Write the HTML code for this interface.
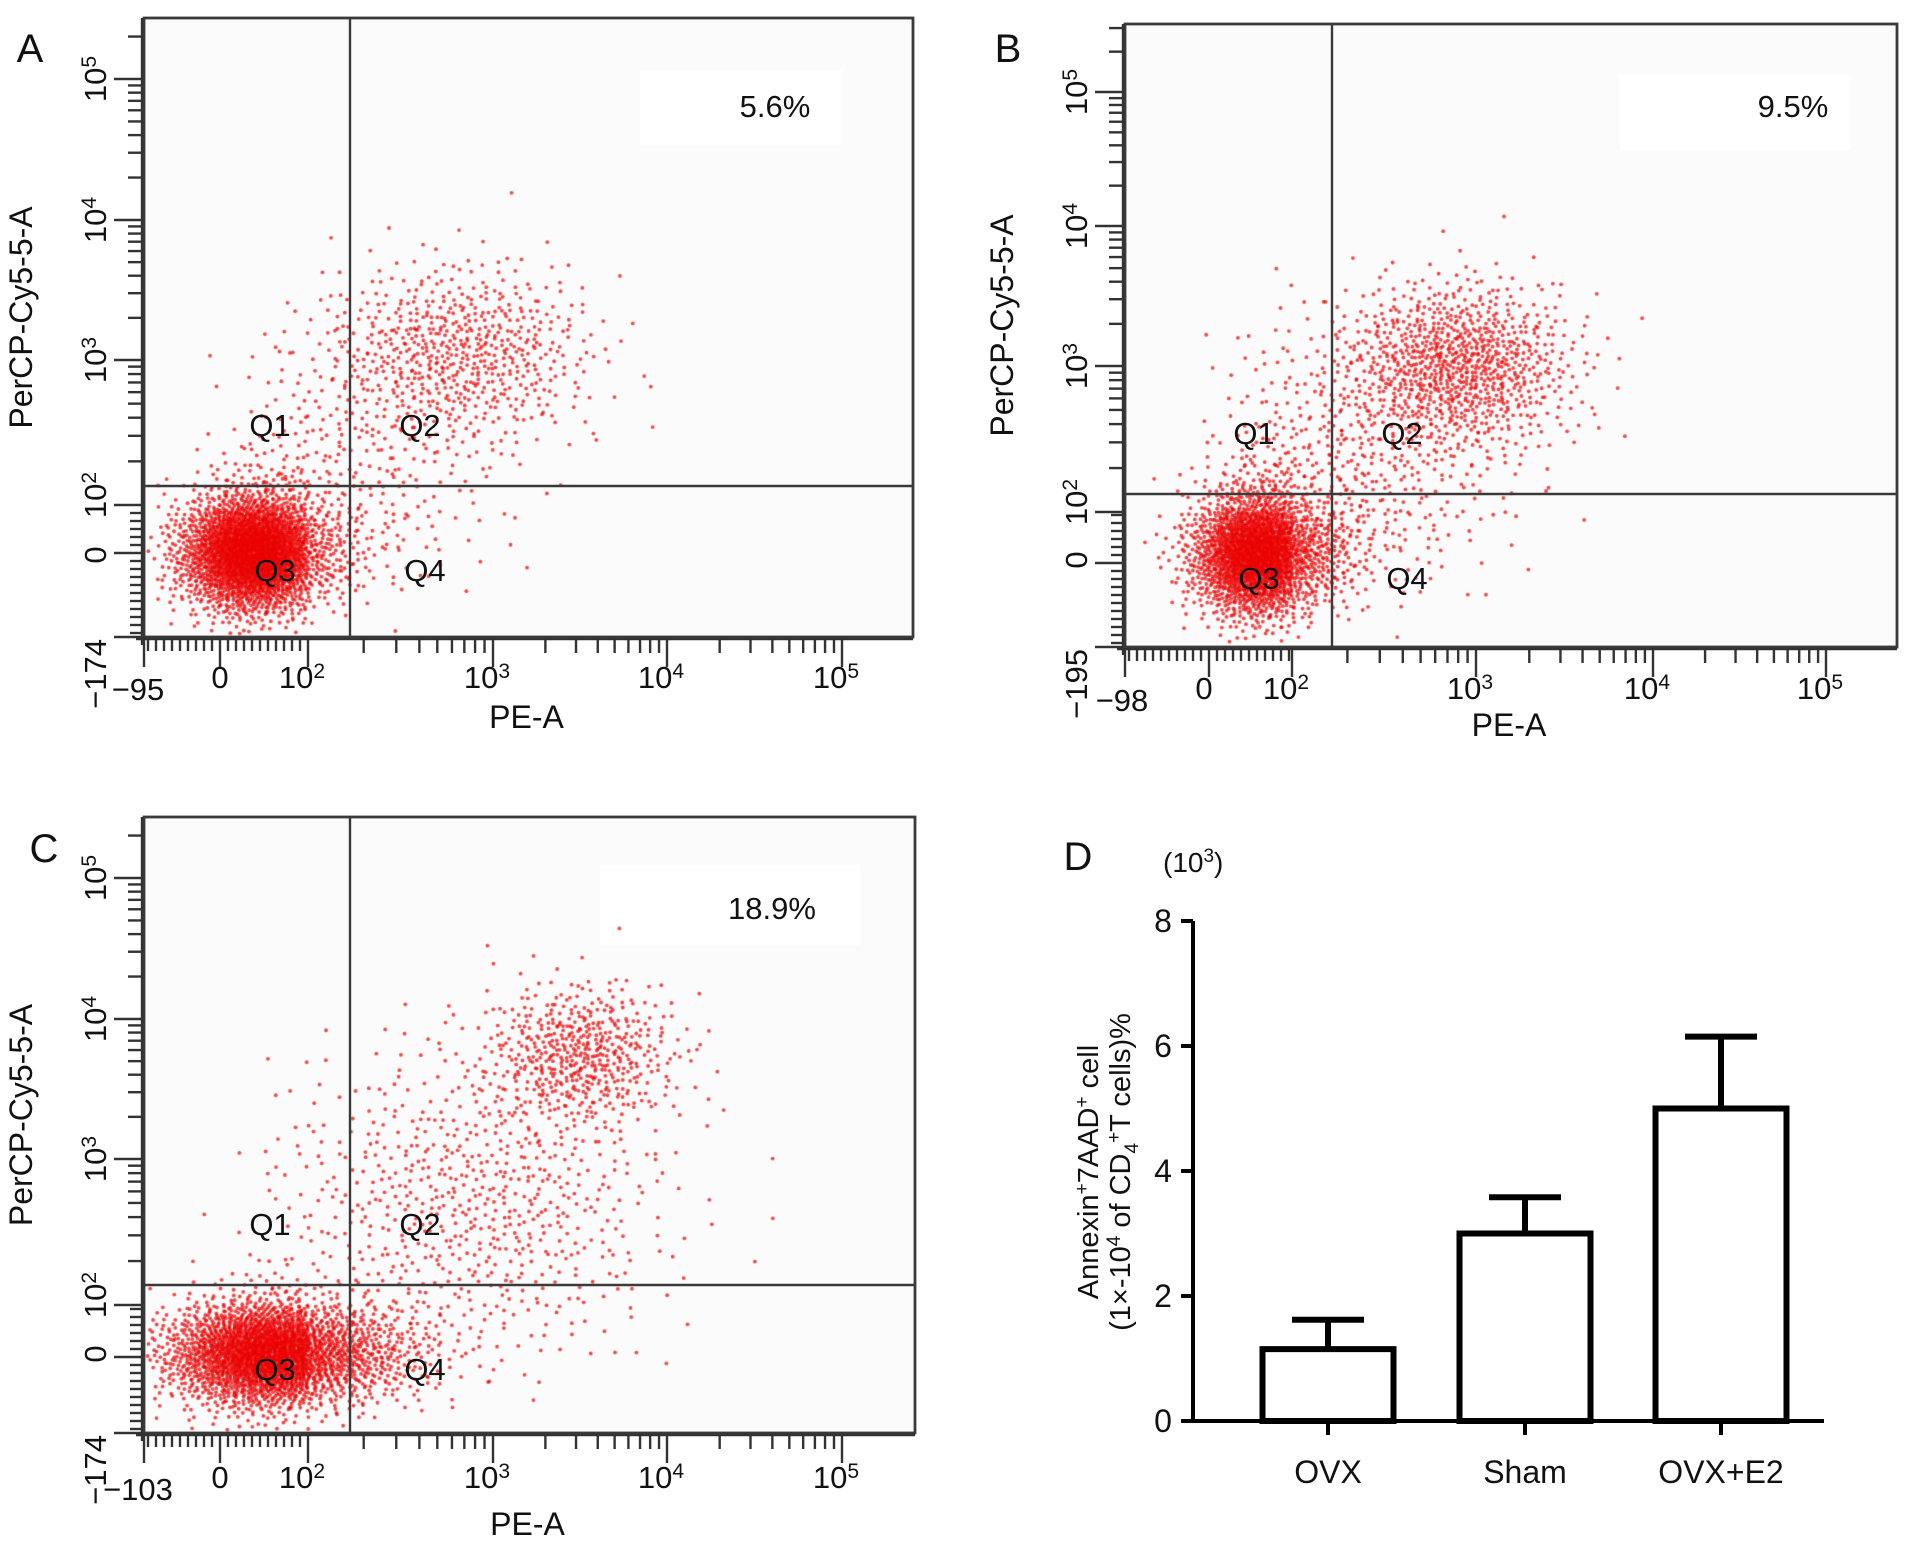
<!DOCTYPE html>
<html><head><meta charset="utf-8">
<style>
html,body{margin:0;padding:0;background:#fff;}
body{width:1913px;height:1559px;position:relative;overflow:hidden;font-family:"Liberation Sans",sans-serif;}
canvas{position:absolute;left:0;top:0;}
svg{position:absolute;left:0;top:0;}
</style></head>
<body>
<canvas id="dots" width="1913" height="1559"></canvas>
<svg id="ov" width="1913" height="1559"></svg>
<script>
// ---------- data ----------
// flow panels: cluster definitions in axis "decade" units [cx, cy, sx, sy, count]
const clustersA = [[1.55,1.62,0.3,0.24,2800],[2.8,3.05,0.38,0.32,650],[2.2,2.2,0.45,0.45,300]];
const clustersB = [[1.72,1.65,0.27,0.26,2300],[2.9,3.0,0.32,0.3,950],[2.3,2.3,0.45,0.5,500]];
const clustersC = [[1.7,1.6,0.42,0.22,2800],[3.5,3.75,0.28,0.25,520],[2.9,2.7,0.55,0.55,700]];
const percents = ["5.6%","9.5%","18.9%"];
const negXLabels = ["\u221295","\u221298","\u2212103"];
const negYLabels = ["\u2212174","\u2212195","\u2212174"];
// bar chart
const categories = ["OVX","Sham","OVX+E2"];
const barMeans = [1.15,3.0,5.0];
const barErrs = [0.47,0.58,1.15];
const barTicks = [0,2,4,6,8];

// ---------- layout ----------
const panels = [
 {id:"a",letter:"A",box:[144,18,913,637],gx:350,gy:486,xk:[[1.3,223],[2,308],[3,493],[4,667],[5,842]],yk:[[1.6,555],[2,505],[3,360],[4,220],[5,79]],cl:clustersA,pctX:775,pctY:107,wb:[640,70,842,145],xlY:688,titleY:728},
 {id:"b",letter:"B",box:[1125,24,1897,647],gx:1332,gy:494,xk:[[1.3,1207],[2,1292],[3,1476],[4,1653],[5,1826]],yk:[[1.6,560],[2,512],[3,366],[4,226],[5,92]],cl:clustersB,pctX:1793,pctY:107,wb:[1620,75,1850,150],xlY:699,titleY:736},
 {id:"c",letter:"C",box:[144,817,915,1433],gx:350,gy:1285,xk:[[1.3,223],[2,308],[3,493],[4,667],[5,842]],yk:[[1.6,1354],[2,1305],[3,1159],[4,1019],[5,878]],cl:clustersC,pctX:772,pctY:909,wb:[600,865,860,945],xlY:1488,titleY:1535}
];
const NS="http://www.w3.org/2000/svg";
const svg=document.getElementById('ov');
function el(tag,attrs,parent){const e=document.createElementNS(NS,tag);for(const k in attrs)e.setAttribute(k,attrs[k]);(parent||svg).appendChild(e);return e;}
function interp(k,u){if(u<=k[0][0])return k[0][1]+(u-k[0][0])*(k[1][1]-k[0][1])/(k[1][0]-k[0][0]);
 for(let i=0;i<k.length-1;i++){if(u<=k[i+1][0])return k[i][1]+(u-k[i][0])*(k[i+1][1]-k[i][1])/(k[i+1][0]-k[i][0]);}
 const n=k.length;return k[n-1][1]+(u-k[n-1][0])*(k[n-1][1]-k[n-2][1])/(k[n-1][0]-k[n-2][0]);}
function halton(i,b){let f=1,r=0;while(i>0){f/=b;r+=f*(i%b);i=Math.floor(i/b);}return r;}

const ctx=document.getElementById('dots').getContext('2d');
panels.forEach(p=>{const[b0,b1,b2,b3]=p.box;ctx.fillStyle="#fbfbfb";ctx.fillRect(b0,b1,b2-b0,b3-b1);
 ctx.fillStyle="#fff";ctx.fillRect(p.wb[0],p.wb[1],p.wb[2]-p.wb[0],p.wb[3]-p.wb[1]);});
ctx.fillStyle="rgba(235,0,0,0.7)";
panels.forEach(p=>{const[b0,b1,b2,b3]=p.box;let idx=1;
 p.cl.forEach(c=>{for(let i=0;i<c[4];i++,idx++){const u1=halton(idx,2)*0.999+0.0005,u2=halton(idx,3);
   const r=Math.sqrt(-2*Math.log(u1));const gx=r*Math.cos(2*Math.PI*u2),gy=r*Math.sin(2*Math.PI*u2);
   const x=interp(p.xk,c[0]+c[2]*gx),y=interp(p.yk,c[1]+c[3]*gy);
   if(x>b0+3&&x<b2-3&&y>b1+3&&y<b3-3){ctx.beginPath();ctx.arc(x,y,1.9,0,6.283);ctx.fill();}}});});

function txt(x,y,s,size,opts){const t=el('text',Object.assign({x:x,y:y,'font-size':size,'font-family':'Liberation Sans, sans-serif',fill:'#111','text-anchor':'middle'},opts||{}));t.textContent=s;return t;}
function pow(x,y,e,size,rot,name){const t=el('text',{x:x,y:y,'font-size':size,'font-family':'Liberation Sans, sans-serif',fill:'#111','text-anchor':'middle',transform:rot?`rotate(-90 ${x} ${y})`:''});
 
 const a=el('tspan',{},t);a.textContent='10';const b=el('tspan',{dy:-10,'font-size':size*0.68},t);b.textContent=e;return t;}

panels.forEach((p,pi)=>{const[b0,b1,b2,b3]=p.box;
 const g=el('g',{});
 const fr=el('rect',{x:b0,y:b1,width:b2-b0,height:b3-b1,fill:'none',stroke:'#3a3a3a','stroke-width':2.8},g);
 
 const vl=el('line',{x1:p.gx,y1:b1,x2:p.gx,y2:b3,stroke:'#3a3a3a','stroke-width':2.4},g);
 
 const hl=el('line',{x1:b0,y1:p.gy,x2:b2,y2:p.gy,stroke:'#3a3a3a','stroke-width':2.4},g);
 
 const tg=el('g',{stroke:'#333','stroke-width':2.4},g);
 el('line',{x1:b0-8,y1:b3+2,x2:b2,y2:b3+2},tg);
 for(let x=b0+4;x<interp(p.xk,2);x+=8)el('line',{x1:x,y1:b3+2,x2:x,y2:b3+ (Math.abs(x-interp(p.xk,1.3))<5?30:14)},tg);
 for(let d=2;d<5.2;d++)for(let m=1;m<=9;m++){const u=d+Math.log10(m);if(u>5.25)break;const x=interp(p.xk,u);if(x>b2-4)break;
   el('line',{x1:x,y1:b3+2,x2:x,y2:b3+(m==1?30:16)},tg);}
 el('line',{x1:b0,y1:b3+2,x2:b0,y2:b3+30},tg);
 const yg=el('g',{stroke:'#333','stroke-width':2.4},g);
 el('line',{x1:b0-2,y1:b1,x2:b0-2,y2:b3+8},yg);
 for(let y=b3-4;y>interp(p.yk,2);y-=8)el('line',{x1:b0-2,y1:y,x2:b0-(Math.abs(y-interp(p.yk,1.6))<5?30:14),y2:y},yg);
 for(let d=2;d<5.3;d++)for(let m=1;m<=9;m++){const u=d+Math.log10(m);const y=interp(p.yk,u);if(y<b1+4)break;
   el('line',{x1:b0-2,y1:y,x2:b0-(m==1?30:16),y2:y},yg);}
 el('line',{x1:b0-2,y1:b3,x2:b0-30,y2:b3},yg);
 const ly=p.xlY;
 txt(interp(p.xk,1.3)-85, ly+12, negXLabels[pi],31);
 txt(interp(p.xk,1.3)-3, ly, "0",31);
 for(let d=2;d<=5;d++)pow(interp(p.xk,d)-6,ly,d,31,false,'x-tick-label-1e'+d+'-'+p.id);
 const xt=txt((b0+b2)/2-2,p.titleY,"PE-A",32);
 const lx=b0-38;
 const nl=txt(lx,b3+2,negYLabels[pi],31,{transform:`rotate(-90 ${lx} ${b3+2})`,'text-anchor':'end'});
 txt(lx,interp(p.yk,1.6),"0",31,{transform:`rotate(-90 ${lx} ${interp(p.yk,1.6)})`});
 for(let d=2;d<=5;d++)pow(lx,interp(p.yk,d)+ (d==2?-10:0),d,31,true,'y-tick-label-1e'+d+'-'+p.id);
 const ytx=b0-112,yty=(b1+b3)/2-10;
 const yt=txt(ytx,yty,"PerCP-Cy5-5-A",32,{transform:`rotate(-90 ${ytx} ${yty})`});
 const qx1=interp(p.xk,1.3)+52, qx2=p.gx+70, qy1=p.gy-50, qy2=p.gy+95;
 [["Q1",qx1-5,qy1],["Q2",qx2,qy1],["Q3",qx1,qy2],["Q4",qx2+5,qy2]].forEach(q=>{const t=txt(q[1],q[2],q[0],31);});
 const pt=txt(p.pctX,p.pctY+10,percents[pi],31);
 const pl=txt(pi==1?1008:(pi==0?30:44),pi==2?862:62,p.letter,40);
});

// ---------- bar chart D ----------
const ax={x0:1193,x1:1824,y0:1421,yTop:921};
const ymax=8;
function yS(v){return ax.y0-(v/ymax)*(ax.y0-ax.yTop);}
const cx=[1328,1525,1721];
const bw=131;
const gD=el('g',{});
categories.forEach((c,i)=>{
 const r=el('rect',{x:cx[i]-bw/2,y:yS(barMeans[i]),width:bw,height:yS(0)-yS(barMeans[i]),fill:'#fff',stroke:'#000','stroke-width':6},gD);
 
 const e=el('path',{d:`M${cx[i]} ${yS(barMeans[i])} V${yS(barMeans[i]+barErrs[i])} M${cx[i]-36} ${yS(barMeans[i]+barErrs[i])} H${cx[i]+36}`,stroke:'#000','stroke-width':6,fill:'none'},gD);
 
 el('line',{x1:cx[i],y1:ax.y0,x2:cx[i],y2:ax.y0+14,stroke:'#000','stroke-width':4},gD);
 const t=txt(cx[i],ax.y0+62,c,32);
});
const yA=el('line',{x1:ax.x0,y1:ax.yTop,x2:ax.x0,y2:ax.y0,stroke:'#000','stroke-width':4},gD);

const xA=el('line',{x1:ax.x0-2,y1:ax.y0,x2:ax.x1,y2:ax.y0,stroke:'#000','stroke-width':4},gD);

barTicks.forEach(v=>{el('line',{x1:ax.x0-12,y1:yS(v),x2:ax.x0,y2:yS(v),stroke:'#000','stroke-width':4},gD);
 const t=txt(ax.x0-30,yS(v)+11,String(v),32);});
const dl=txt(1078,870,"D",40);
const un=el('text',{x:1163,y:872,'font-size':28,'font-family':'Liberation Sans, sans-serif',fill:'#111'});

un.innerHTML='(10<tspan dy="-10" font-size="19">3</tspan><tspan dy="10">)</tspan>';
const t1=el('text',{x:1098,y:1172,'font-size':29,'font-family':'Liberation Sans, sans-serif',fill:'#111','text-anchor':'middle',transform:'rotate(-90 1098 1172)'});

t1.innerHTML='Annexin<tspan dy="-10" font-size="19">+</tspan><tspan dy="10">7AAD</tspan><tspan dy="-10" font-size="19">+</tspan><tspan dy="10"> cell</tspan>';
const t2=el('text',{x:1130,y:1172,'font-size':29,'font-family':'Liberation Sans, sans-serif',fill:'#111','text-anchor':'middle',transform:'rotate(-90 1130 1172)'});

t2.innerHTML='(1\u00d7-10<tspan dy="-10" font-size="19">4</tspan><tspan dy="10"> of CD</tspan><tspan dy="8" font-size="19">4</tspan><tspan dy="-18" font-size="19">+</tspan><tspan dy="10">T cells)%</tspan>';
</script>
</body></html>
